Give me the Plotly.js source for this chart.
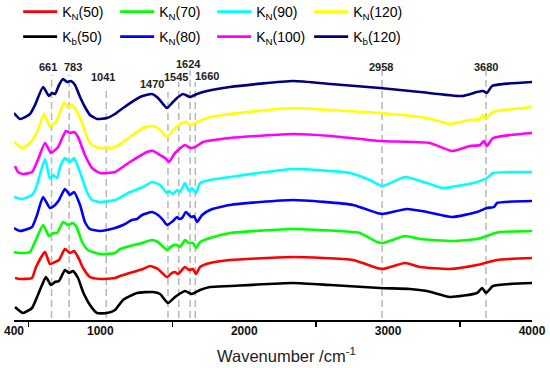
<!DOCTYPE html>
<html>
<head>
<meta charset="utf-8">
<script src="https://cdn.plot.ly/plotly-3.0.1.min.js"></script>
<style>html,body{margin:0;padding:0;background:#fff;}#chart{width:550px;height:368px;}</style>
</head>
<body>
<div id="chart"></div>
<script>
// Series (wavenumber cm^-1, relative intensity incl. stacking offset)
const wnKb120 = [400,442,511,546,602,643,664,685,713,741,768,796,824,859,893,928,977,1046,1102,1158,1276,1359,1401,1463,1498,1533,1575,1623,1672,1741,1901,2339,2600,2944,3222,3514,3618,3660,3687,3722,3799,4000];
const yKb120  = [207,201,206,215,233,224,227,226,235,241,238,239,235,223,213,205,201,202,206,212,223,226,222,212,217,222,226,223,226,229,233,239,236,232,228,224,228,229,227,234,236,238];

const wnKN120 = [400,455,511,560,609,650,671,692,720,748,775,803,831,873,907,942,998,1102,1206,1297,1366,1415,1463,1505,1568,1595,1623,1672,1741,1901,2339,2600,2944,3270,3430,3569,3639,3660,3674,3729,4000];
const yKN120  = [178,172,177,188,206,193,196,198,208,217,213,215,210,197,183,175,172,173,183,192,194,190,183,190,197,198,195,198,202,206,212,210,207,202,196,200,201,205,201,208,213];

const wnKN100 = [407,428,463,525,560,616,657,685,706,761,789,817,845,893,942,998,1102,1206,1324,1366,1415,1449,1477,1519,1588,1623,1658,1714,1901,2339,2600,2944,3291,3444,3569,3640,3665,3687,3729,4000];
const yKN100  = [154,148,146,148,158,177,167,170,173,189,187,188,183,165,152,147,148,158,168,169,165,162,158,167,175,172,173,178,182,186,184,179,177,169,174,175,179,174,182,187];

const wnKN90 = [400,456,525,553,615,650,671,699,720,754,789,817,845,873,907,942,998,1102,1206,1297,1359,1415,1463,1477,1505,1533,1554,1588,1616,1637,1665,1693,1762,1901,2339,2735,2874,2958,3117,3270,3381,3618,3687,3729,4000];
const yKN90  = [123,121,125,132,161,141,145,142,153,162,158,162,153,142,128,120,118,120,128,133,138,135,127,129,126,130,128,137,129,132,127,137,140,143,151,147,140,134,143,137,132,138,142,147,148];

const wnKN80 = [400,442,525,560,602,650,685,713,754,789,817,859,893,928,998,1102,1158,1220,1255,1290,1359,1401,1436,1463,1505,1533,1547,1568,1595,1623,1637,1651,1672,1707,1762,1901,2339,2756,2923,2964,3131,3270,3444,3618,3687,3736,3757,4000];
const yKN80  = [92,89,93,105,123,112,115,120,131,125,128,115,98,91,89,92,95,100,101,105,108,105,100,95,99,103,101,102,108,104,103,104,98,105,110,115,120,115,107,106,111,108,103,108,112,113,117,119];

const wnKN70 = [400,442,511,546,602,643,671,699,741,775,810,838,873,914,998,1102,1137,1206,1290,1359,1401,1463,1498,1533,1554,1588,1616,1644,1665,1693,1762,1901,2339,2756,2805,2923,2964,3117,3222,3451,3618,3687,3743,3778,4000];
const yKN70  = [68,67,68,78,95,84,87,87,98,95,97,92,78,70,66,67,71,74,77,80,78,70,74,75,73,80,77,77,72,78,82,87,91,88,87,78,77,84,81,79,81,84,87,88,89];

const wnKN50 = [407,442,525,553,615,650,685,713,754,789,817,845,880,928,998,1102,1137,1227,1297,1345,1401,1463,1498,1519,1540,1588,1616,1644,1665,1693,1762,1901,2339,2756,2923,2964,3117,3222,3430,3618,3757,4000];
const yKN50  = [42,41,42,53,68,56,58,60,71,67,69,63,52,43,41,42,44,48,51,54,51,43,47,48,46,53,50,51,46,53,57,60,63,60,52,51,57,53,51,55,60,62];

const wnKb50 = [407,463,525,560,595,622,657,685,713,754,782,810,845,880,928,977,1046,1102,1158,1255,1366,1415,1470,1519,1588,1637,1693,1762,1901,2339,2600,2944,3150,3270,3430,3618,3653,3681,3729,4000];
const yKb50  = [13,7,12,23,35,43,35,38,39,50,47,49,42,28,15,7,7,10,20,27,28,26,17,23,29,26,30,33,34,37,35,32,31,29,23,27,32,27,34,37];

// Marked peaks
const peakPos   = [661,783,1041,1470,1545,1624,1660,2958,3680];
const peakText  = ['661','783','1041','1470','1545','1624','1660','2958','3680'];
const peakLabX  = [636,810,1019,1359,1526,1616,1741,2951,3681];
const peakLabY  = [253,253,243,236,243,256,244,253,253];
const peakLineTop = [245,245,233,228,238,250,238,250,250];

const xTicks = [400,1000,2000,3000,4000];
const xMinor = [500,1500,2500,3500];

const FONT = 'Liberation Sans, Arial, sans-serif';

function tr(x, y, name, color, legend) {
  return {x: x, y: y, name: name, type: 'scatter', mode: 'lines',
    line: {color: color, width: 2.6, shape: 'spline', smoothing: 0.5},
    legend: legend, hoverinfo: 'skip'};
}

const data = [
  tr(wnKN50, yKN50, 'K<sub>N</sub>(50)', '#ff0000', 'legend'),
  tr(wnKN70, yKN70, 'K<sub>N</sub>(70)', '#00ff00', 'legend'),
  tr(wnKN90, yKN90, 'K<sub>N</sub>(90)', '#00ffff', 'legend'),
  tr(wnKN120, yKN120, 'K<sub>N</sub>(120)', '#ffff00', 'legend'),
  tr(wnKb50, yKb50, 'K<sub>b</sub>(50)', '#000000', 'legend2'),
  tr(wnKN80, yKN80, 'K<sub>N</sub>(80)', '#0000ff', 'legend2'),
  tr(wnKN100, yKN100, 'K<sub>N</sub>(100)', '#ff00ff', 'legend2'),
  tr(wnKb120, yKb120, 'K<sub>b</sub>(120)', '#000080', 'legend2')
];

const shapes = peakPos.map((p, i) => ({
  type: 'line', xref: 'x', yref: 'y', x0: p, x1: p, y0: 2, y1: peakLineTop[i],
  line: {color: '#b8b8b8', width: 1.5, dash: '7px,4px'}, layer: 'below'
}));

const annotations = peakText.map((t, i) => ({
  x: peakLabX[i], y: peakLabY[i], xref: 'x', yref: 'y', text: t, showarrow: false,
  font: {family: FONT, size: 11, color: '#222', weight: 'bold'}, xanchor: 'center', yanchor: 'middle'
}));
annotations.push({
  x: 2297, xref: 'x', y: -35/270, yref: 'paper', yanchor: 'middle', xanchor: 'center',
  text: 'Wavenumber /cm<sup>-1</sup>', showarrow: false,
  font: {family: FONT, size: 16.5, color: '#222'}
});

const legBase = {orientation: 'h', xref: 'container', yref: 'container', xanchor: 'left', yanchor: 'middle',
  font: {family: FONT, size: 14, color: '#000'}, entrywidth: 48, itemwidth: 34, bgcolor: 'rgba(0,0,0,0)', tracegroupgap: 0};

const layout = {
  width: 550, height: 368,
  margin: {l: 14, r: 18, t: 50, b: 48, autoexpand: false},
  paper_bgcolor: '#fff', plot_bgcolor: '#fff',
  showlegend: true,
  legend: Object.assign({}, legBase, {x: 0.033, y: 1 - 12/368}),
  legend2: Object.assign({}, legBase, {x: 0.033, y: 1 - 37/368}),
  xaxis: {range: [400, 4000], showgrid: false, zeroline: false,
    showline: true, linecolor: '#000', linewidth: 1.5,
    tickmode: 'array', tickvals: xTicks, ticktext: xTicks.map(String), ticks: '',
    ticklabelstandoff: -1,
    tickfont: {family: FONT, size: 12, color: '#111', weight: 'bold'},
    minor: {tickmode: 'array', tickvals: xMinor, ticks: 'outside', ticklen: 5, tickwidth: 1.5, tickcolor: '#000', showgrid: false}
  },
  yaxis: {range: [0, 270], visible: false, fixedrange: true},
  shapes: shapes,
  annotations: annotations
};

Plotly.newPlot('chart', data, layout, {displayModeBar: false, staticPlot: true});
</script>
</body>
</html>
